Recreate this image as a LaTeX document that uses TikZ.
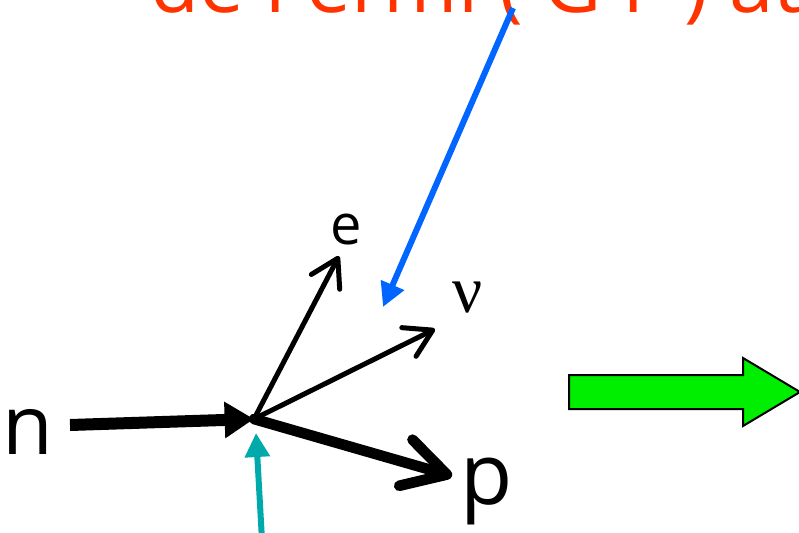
\documentclass[tikz,border=0pt]{standalone}
\usepackage{fontspec}
\setmainfont{Open Sans}
\newfontfamily\greekfont{Liberation Serif}
\usetikzlibrary{arrows.meta,positioning}
\definecolor{titlered}{HTML}{FF3300}
\definecolor{pointblue}{HTML}{0066FF}
\definecolor{pointteal}{HTML}{00AAAA}
\definecolor{blockgreen}{HTML}{00EE00}

\begin{document}
\begin{tikzpicture}[x=0.75pt,y=-0.75pt,
  lab/.style={inner sep=0pt},
  heavy/.style={line width=9pt,-{Triangle[length=22pt,width=26pt]}},
  proton/.style={line width=8pt,line cap=round,-{Straight Barb[length=32pt,width=36pt,line cap=round,round]}},
  light/.style={line width=3.75pt,-{Straight Barb[length=20pt,width=24pt,line cap=round,round]}},
  pointer/.style={line width=4.5pt,-{Triangle[length=18pt,width=18pt]}}]
  \clip (0,0) rectangle (799,532);
  % cut-off title line
  \node[lab,anchor=base west,text=titlered,font=\fontsize{60}{60}\selectfont] (title) at (150,12) {de Fermi ( G F ) at};
  % decay vertex and particles
  \coordinate (vtx) at (254,419);
  \coordinate (ntail) at (70,425);
  \coordinate (ptip) at (452,476);
  \coordinate (etip) at (339,256);
  \coordinate (nutip) at (435,329);
  \node[lab,font=\fontsize{62}{62}\selectfont] (n) at (28,432) {n};
  \node[lab,font=\fontsize{64}{64}\selectfont] (p) at (487,491) {p};
  \node[lab,font=\fontsize{42}{42}\selectfont] (e) at (346,230) {e};
  \node[lab,font=\greekfont\fontsize{50}{50}\selectfont] (nu) at (468,298) {ν};
  \draw[heavy] (ntail) -- (vtx);
  \draw[proton] (vtx) -- (ptip);
  \draw[light] (vtx) -- (etip);
  \draw[light] (vtx) -- (nutip);
  % pointers
  \coordinate (btail) at (513,8);
  \coordinate (btip) at (383,307);
  \coordinate (ttail) at (262,540);
  \coordinate (ttip) at (256,433);
  \draw[pointer,pointblue] (btail) -- (btip);
  \draw[pointer,pointteal] (ttail) -- (ttip);
  % block arrow
  \draw[line width=1.5pt,fill=blockgreen,line join=miter]
    (569,375) -- (743,375) -- (743,358) -- (800,392) -- (743,426) -- (743,409) -- (569,409) -- cycle;
\end{tikzpicture}
\end{document}
